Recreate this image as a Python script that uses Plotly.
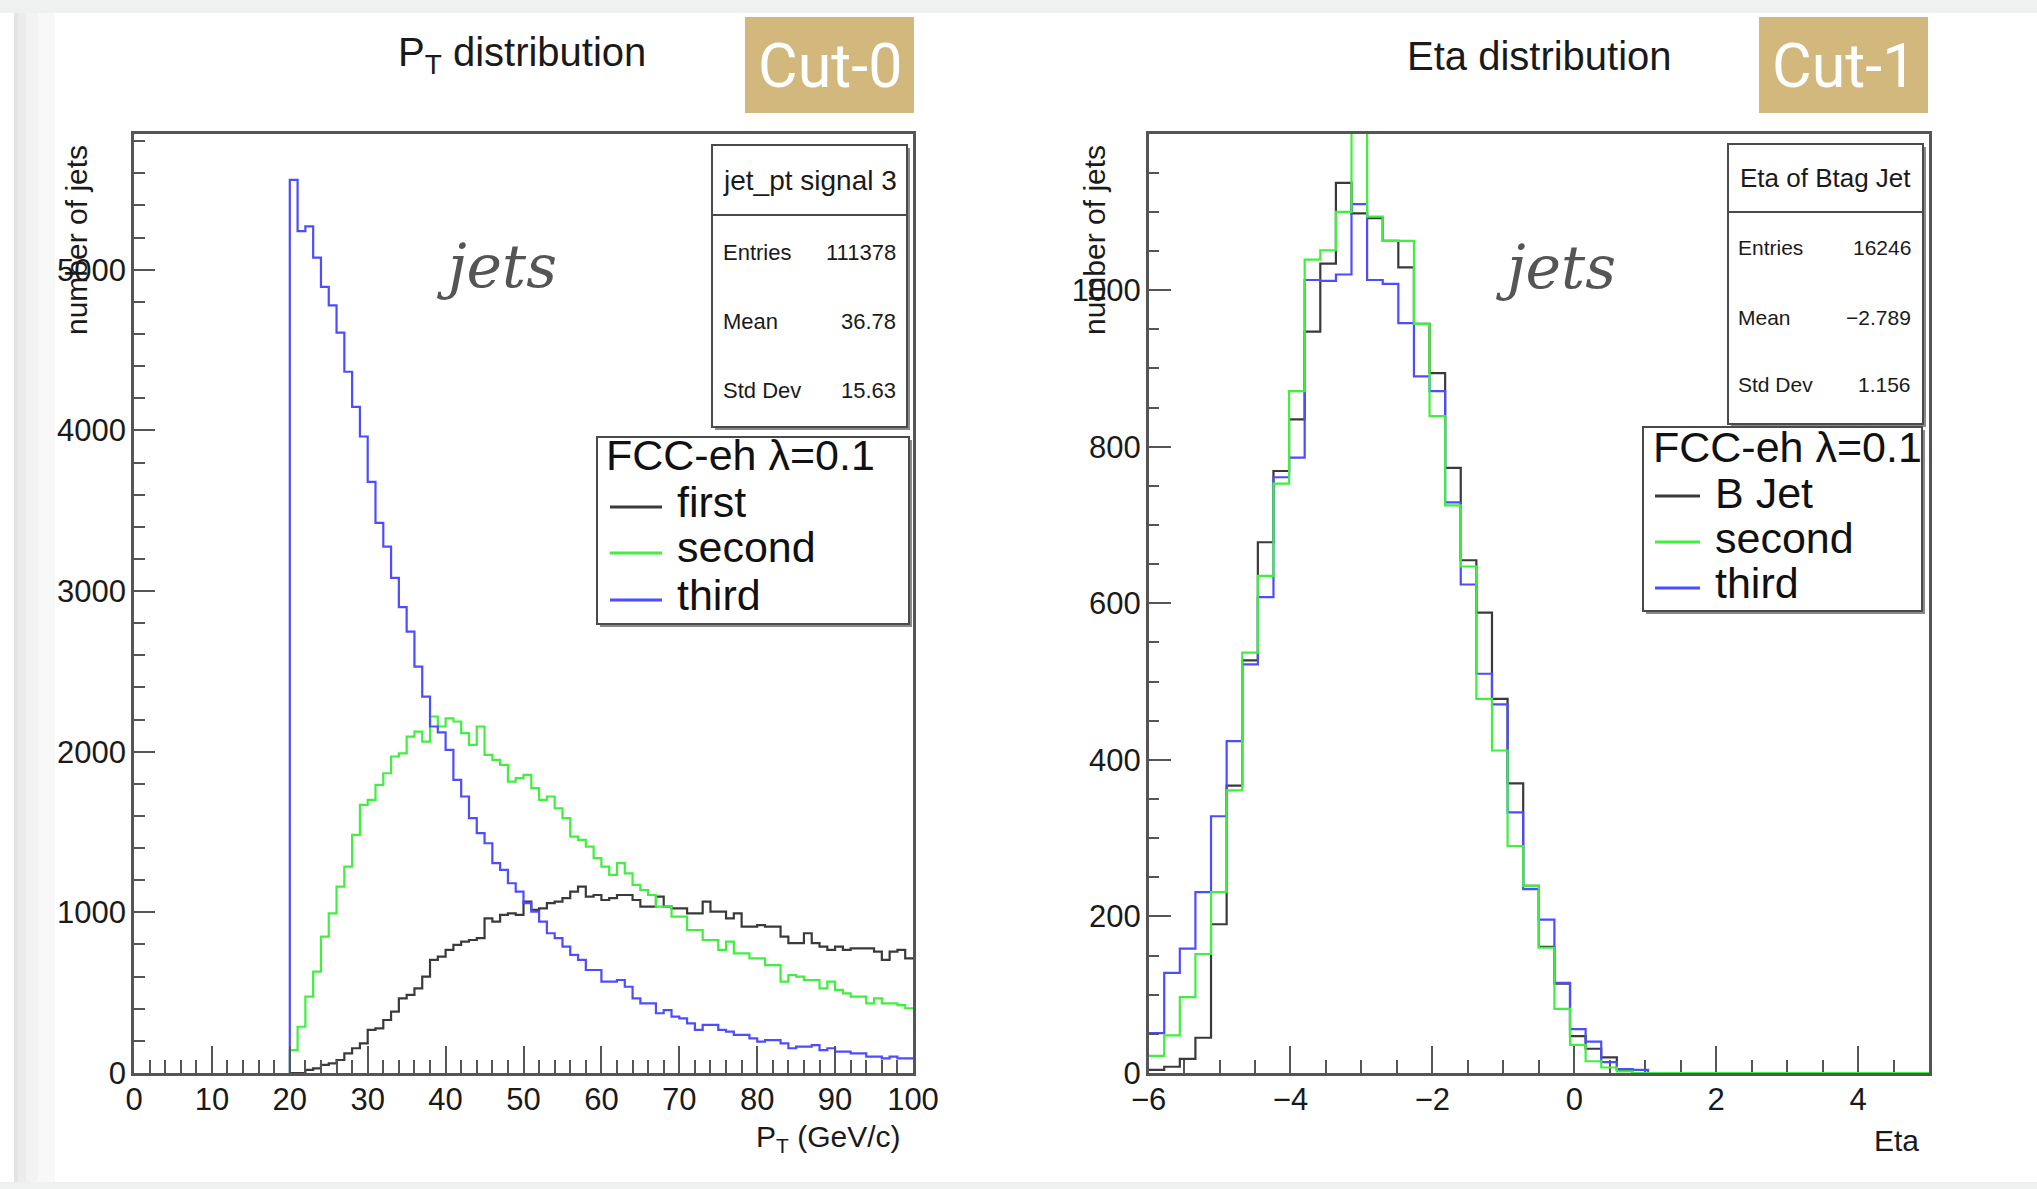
import plotly.graph_objects as go
import numpy as np

W, H = 2037, 1189

# ---------------- data ----------------
PT_FIRST_BIN = 20      # first filled pT bin (GeV), bins are 1 GeV wide
PT_BIN_WIDTH = 1.0
pt_first = [0, 0, 19, 29, 50, 60, 81, 122, 154, 185,
            268, 278, 330, 382, 465, 486, 527, 600, 704, 724,
            766, 797, 818, 828, 839, 963, 942, 984, 994, 984,
            1067, 1015, 1025, 1057, 1067, 1088, 1129, 1160, 1098, 1108,
            1077, 1088, 1108, 1108, 1077, 1036, 1036, 1098, 1036, 1025,
            1025, 994, 994, 1067, 1005, 1005, 963, 994, 911, 911,
            921, 911, 911, 849, 808, 808, 870, 808, 787, 766,
            787, 766, 776, 776, 776, 755, 704, 755, 766, 714]
pt_second = [143, 288, 475, 631, 849, 994, 1160, 1285, 1482, 1669,
             1700, 1793, 1866, 1970, 1990, 2094, 2125, 2063, 2219, 2157,
             2208, 2188, 2115, 2042, 2157, 1980, 1949, 1918, 1814, 1835,
             1856, 1773, 1700, 1721, 1648, 1586, 1471, 1451, 1409, 1337,
             1285, 1233, 1306, 1243, 1171, 1139, 1108, 1036, 1036, 973,
             973, 890, 890, 828, 828, 766, 818, 745, 745, 714,
             714, 672, 672, 569, 610, 600, 579, 579, 527, 569,
             517, 496, 475, 475, 434, 465, 434, 434, 423, 403]
pt_third = [5560, 5240, 5270, 5075, 4894, 4778, 4608, 4365, 4147, 3962,
            3680, 3424, 3277, 3082, 2900, 2748, 2530, 2343, 2157, 2120,
            2011, 1824, 1721, 1586, 1493, 1430, 1306, 1264, 1181, 1129,
            1057, 1005, 942, 870, 839, 787, 735, 704, 641, 641,
            569, 569, 579, 537, 465, 434, 434, 372, 392, 351,
            340, 309, 268, 299, 299, 268, 257, 237, 237, 216,
            195, 205, 205, 185, 154, 164, 164, 174, 143, 154,
            133, 133, 122, 122, 102, 102, 91, 102, 91, 91]

ETA_MIN = -6.0
ETA_BIN_WIDTH = 0.22   # 50 bins from -6 to 5
eta_bjet = [4, 8, 18, 45, 190, 367, 527, 678, 769, 835,
            947, 1034, 1137, 1098, 1092, 1063, 1029, 957, 894, 773,
            655, 588, 478, 370, 239, 161, 114, 47, 31, 20,
            4, 0, 0, 0, 0, 0, 0, 0, 0, 0,
            0, 0, 0, 0, 0, 0, 0, 0, 0, 0]
eta_second = [22, 48, 97, 152, 231, 361, 537, 635, 753, 871,
              1039, 1051, 1100, 1250, 1094, 1063, 1063, 957, 839, 725,
              647, 478, 412, 290, 239, 160, 82, 36, 15, 7,
              2, 0, 0, 0, 0, 0, 0, 0, 0, 0,
              0, 0, 0, 0, 0, 0, 0, 0, 0, 0]
eta_third = [51, 128, 159, 231, 328, 424, 522, 608, 761, 786,
             1013, 1012, 1020, 1110, 1013, 1008, 958, 890, 871, 729,
             624, 510, 471, 333, 235, 196, 115, 56, 40, 14,
             5, 4, 0, 0, 0, 0, 0, 0, 0, 0,
             0, 0, 0, 0, 0, 0, 0, 0, 0, 0]

pt_legend = ["first", "second", "third"]
eta_legend = ["B Jet", "second", "third"]
pt_stats = [("Entries", "111378"), ("Mean", "36.78"), ("Std Dev", "15.63")]
eta_stats = [("Entries", "16246"), ("Mean", "\u22122.789"), ("Std Dev", "1.156")]

C_BLACK = "#3a3a3a"
C_GREEN = "#3ff03f"
C_BLUE = "#4d4dff"


def px(x):
    return x / W


def py(y):
    return 1 - y / H


def step_xy(start, width, vals, from_zero=True):
    n = len(vals)
    edges = start + width * np.arange(n + 1)
    xs = list(edges[:n]) + [edges[n]]
    ys = list(vals) + [vals[-1]]
    if from_zero:
        xs = [edges[0]] + xs
        ys = [0] + ys
    return xs, ys


fig = go.Figure()

for vals, col in [(pt_first, C_BLACK), (pt_second, C_GREEN), (pt_third, C_BLUE)]:
    xs, ys = step_xy(PT_FIRST_BIN, PT_BIN_WIDTH, vals)
    fig.add_trace(go.Scatter(x=xs, y=ys, mode="lines", line=dict(color=col, width=2.2, shape="hv"),
                             xaxis="x", yaxis="y", showlegend=False, hoverinfo="skip"))

for vals, col in [(eta_bjet, C_BLACK), (eta_third, C_BLUE), (eta_second, C_GREEN)]:
    xs, ys = step_xy(ETA_MIN, ETA_BIN_WIDTH, vals, from_zero=False)
    fig.add_trace(go.Scatter(x=xs, y=ys, mode="lines", line=dict(color=col, width=2.2, shape="hv"),
                             xaxis="x2", yaxis="y2", showlegend=False, hoverinfo="skip"))

AX_COL = "#555555"
TICK_FONT = dict(family="Liberation Sans, Arial, sans-serif", size=31, color="#1a1a1a")


def xax(domain, rng, dtick, tick0, mdtick, anchor, layer="above traces"):
    return dict(domain=domain, range=rng, anchor=anchor, tickmode="linear", tick0=tick0, dtick=dtick,
                ticks="inside", ticklen=27, tickwidth=2, tickcolor=AX_COL,
                minor=dict(dtick=mdtick, tick0=tick0, ticks="inside", ticklen=13, tickwidth=1.6, tickcolor=AX_COL),
                showgrid=False, zeroline=False, showline=True, linecolor=AX_COL, linewidth=2.5, mirror=True,
                tickfont=TICK_FONT, ticklabelstandoff=-3, layer=layer, fixedrange=True, automargin=False)


def yax(domain, rng, dtick, mdtick, anchor, ticklen):
    return dict(domain=domain, range=rng, anchor=anchor, tickmode="linear", tick0=0, dtick=dtick,
                ticks="inside", ticklen=ticklen, tickwidth=2, tickcolor=AX_COL,
                minor=dict(dtick=mdtick, tick0=0, ticks="inside", ticklen=11, tickwidth=1.6, tickcolor=AX_COL),
                showgrid=False, zeroline=False, showline=True, linecolor=AX_COL, linewidth=2.5, mirror=True,
                tickfont=TICK_FONT, ticklabelstandoff=-1, fixedrange=True, automargin=False)


ydom = [py(1073), py(134)]
fig.update_layout(
    width=W, height=H, margin=dict(l=0, r=0, t=0, b=0, pad=0, autoexpand=False),
    paper_bgcolor="white", plot_bgcolor="white",
    xaxis=xax([px(134), px(913)], [0, 100], 10, 0, 2, "y"),
    yaxis=yax(ydom, [0, 5845], 1000, 200, "x", 21),
    xaxis2=xax([px(1148.6), px(1929)], [-6, 5], 2, -6, 0.5, "y2", layer="below traces"),
    yaxis2=yax(ydom, [0, 1199.5], 200, 50, "x2", 23),
)

shapes = []
ann = []

# page background (screenshot edges)
shapes.append(dict(type="rect", xref="paper", yref="paper", x0=0, x1=1, y0=py(13), y1=1,
                   fillcolor="#eff1f1", line=dict(width=0), layer="below"))
shapes.append(dict(type="rect", xref="paper", yref="paper", x0=0, x1=1, y0=0, y1=py(1182),
                   fillcolor="#eff1f1", line=dict(width=0), layer="below"))
for x0, x1, c in [(14, 18, "#e4e4e4"), (18, 26, "#ececec"), (26, 38, "#f3f3f3"), (38, 55, "#f8f8f8")]:
    shapes.append(dict(type="rect", xref="paper", yref="paper", x0=px(x0), x1=px(x1), y0=py(1182), y1=py(13),
                       fillcolor=c, line=dict(width=0), layer="below"))

LBL = "Liberation Sans, Arial, sans-serif"


def text(x, y, s, size, color="#1a1a1a", xanchor="center", yanchor="middle", family=LBL, angle=0, italic=False):
    ann.append(dict(x=px(x), y=py(y), xref="paper", yref="paper", text=s, showarrow=False,
                    xanchor=xanchor, yanchor=yanchor, textangle=angle,
                    font=dict(family=family, size=size, color=color,
                              style="italic" if italic else "normal")))


# titles
text(522, 55, "P<sub>T</sub> distribution", 40)
text(1539, 56, "Eta distribution", 40)

# Cut boxes
for x0, x1, label in [(745, 914, "Cut-0"), (1759, 1928, "Cut-1")]:
    shapes.append(dict(type="rect", xref="paper", yref="paper", x0=px(x0), x1=px(x1), y0=py(113), y1=py(17),
                       fillcolor="#d2b87c", line=dict(width=0)))
    text((x0 + x1) / 2, 66, label, 61, color="white", family="Roboto, Liberation Sans, sans-serif")

# axis titles
text(903, 1138, "P<sub>T</sub> (GeV/c)", 30, xanchor="right")
text(1921, 1140, "Eta", 30, xanchor="right")
text(76, 143, "number of jets", 30, angle=-90, yanchor="top")
text(1094, 143, "number of jets", 30, angle=-90, yanchor="top")

# "jets" labels
text(497, 266, "jets", 60, color="#555555", family="DejaVu Serif, serif", italic=True)
text(1556, 267, "jets", 60, color="#555555", family="DejaVu Serif, serif", italic=True)


def box(x0, y0, x1, y1, shadow=True):
    if shadow:
        shapes.append(dict(type="rect", xref="paper", yref="paper", x0=px(x0 + 3), x1=px(x1 + 3),
                           y0=py(y1 + 3), y1=py(y0 + 3), fillcolor="#8a8a8a", line=dict(width=0)))
    shapes.append(dict(type="rect", xref="paper", yref="paper", x0=px(x0), x1=px(x1), y0=py(y1), y1=py(y0),
                       fillcolor="white", line=dict(color="#4a4a4a", width=2)))


# stat boxes
for (bx0, by0, bx1, by1, sep, title, ty, rows, rys, lx, rx, fs, tfs) in [
    (712, 145, 907, 427, 215, "jet_pt signal 3", 180, pt_stats, [252, 322, 390], 721, 898, 22, 28),
    (1728, 144, 1923, 424, 212, "Eta of Btag Jet", 178, eta_stats, [248, 317, 385], 1736, 1913, 21, 26),
]:
    box(bx0, by0, bx1, by1)
    shapes.append(dict(type="line", xref="paper", yref="paper", x0=px(bx0), x1=px(bx1), y0=py(sep), y1=py(sep),
                       line=dict(color="#4a4a4a", width=2)))
    text((bx0 + bx1) / 2, ty, title, tfs)
    for (lab, val), ry in zip(rows, rys):
        text(lx, ry, lab, fs, xanchor="left")
        text(rx, ry, val, fs, xanchor="right")

# legends
for (bx0, by0, bx1, by1, hx, hy, labels, lys, tys, lx0, lx1, tx) in [
    (597, 437, 909, 624, 604, 455, pt_legend, [507, 553, 600], [502, 547, 595], 610, 662, 675),
    (1643, 427, 1922, 611, 1651, 447, eta_legend, [496, 542, 588], [493, 538, 583], 1655, 1700, 1713),
]:
    box(bx0, by0, bx1, by1)
    text(hx, hy, "FCC-eh \u03bb=0.1", 43, color="#111111", xanchor="left")
    for lab, ly, ty, col in zip(labels, lys, tys, [C_BLACK, C_GREEN, C_BLUE]):
        shapes.append(dict(type="line", xref="paper", yref="paper", x0=px(lx0), x1=px(lx1), y0=py(ly), y1=py(ly),
                           line=dict(color=col, width=3)))
        text(tx, ty, lab, 43, color="#111111", xanchor="left")

fig.update_layout(shapes=shapes, annotations=ann)
fig.write_html("out.html")
